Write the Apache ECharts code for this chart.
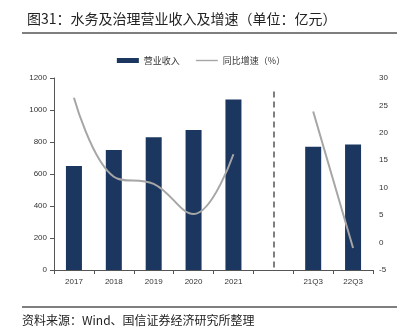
<!DOCTYPE html>
<html><head><meta charset="utf-8">
<script src="https://cdn.jsdelivr.net/npm/echarts@6/dist/echarts.min.js"></script>
<style>html,body{margin:0;padding:0;background:#fff}#c{width:402px;height:336px}</style>
</head><body><div id="c"></div>
<script>
const categories = ['2017','2018','2019','2020','2021','','21Q3','22Q3'];
const revenue = [650, 750, 830, 875, 1065, null, 770, 785];
const growth = [26.4, 12.0, 10.7, 5.2, 16.1, null, 23.9, -1.0];
const leftTicks = [0, 200, 400, 600, 800, 1000, 1200];
const rightTicks = [-5, 0, 5, 10, 15, 20, 25, 30];

const chart = echarts.init(document.getElementById('c'), null, {renderer:'canvas'});
const font = '"Noto Sans CJK SC", "Noto Sans", sans-serif';
const numFont = '"Liberation Sans", Arial, sans-serif';
chart.setOption({
  animation: false,
  textStyle: {fontFamily: font},
  title: {
    text: '图31：水务及治理营业收入及增速（单位：亿元）',
    left: 22, top: 7,
    textStyle: {fontSize: 14, fontWeight: 'normal', color: '#222', fontFamily: font}
  },
  legend: {
    top: 51, left: 'center',
    itemGap: 16,
    textStyle: {fontSize: 9, color: '#333'},
    data: [
      {name: '营业收入', icon: 'rect'},
      {name: '同比增速（%）', icon: 'path://M0,0L22,0L22,1.4L0,1.4Z'}
    ],
    itemWidth: 22, itemHeight: 5
  },
  graphic: [
    {type: 'line', shape: {x1: 22, y1: 33, x2: 397, y2: 33}, style: {stroke: '#555', lineWidth: 1.5}},
    {type: 'line', shape: {x1: 22, y1: 307, x2: 397, y2: 307}, style: {stroke: '#555', lineWidth: 1.5}},
    {type: 'text', left: 22, top: 314, style: {text: '资料来源：Wind、国信证券经济研究所整理', fontSize: 12, fill: '#222', fontFamily: font}}
  ],
  grid: {left: 54, right: 29, top: 78, bottom: 66},
  xAxis: {
    type: 'category', data: categories,
    axisLine: {lineStyle: {color: '#555'}},
    axisTick: {show: true, lineStyle: {color: '#555'}, length: 4},
    axisLabel: {fontSize: 8, color: '#333', margin: 8, fontFamily: numFont}
  },
  yAxis: [
    {type: 'value', min: 0, max: 1200, interval: 200,
     axisLine: {show: true, lineStyle: {color: '#555'}},
     axisTick: {show: true, lineStyle: {color: '#555'}, length: 4},
     splitLine: {show: false},
     axisLabel: {fontSize: 8, color: '#333', margin: 7, fontFamily: numFont, formatter: v => String(v)}},
    {type: 'value', min: -5, max: 30, interval: 5,
     axisLine: {show: false}, axisTick: {show: false},
     splitLine: {show: false},
     axisLabel: {fontSize: 8, color: '#333', margin: 6, fontFamily: numFont, formatter: v => String(v)}}
  ],
  series: [
    {name: '营业收入', type: 'bar', data: revenue, barWidth: 16,
     itemStyle: {color: '#1b365f'},
     markLine: {
       silent: true, symbol: 'none', label: {show: false},
       lineStyle: {type: [6, 4], color: '#555', width: 1.5},
       data: [[{coord: [5, 1115]}, {coord: [5, 10]}]]
     }},
    {name: '同比增速（%）', type: 'line', yAxisIndex: 1, data: growth,
     smooth: 0.4, connectNulls: false, showSymbol: false, symbol: 'none',
     lineStyle: {color: '#a6a6a6', width: 2}, itemStyle: {color: '#a6a6a6'}}
  ]
});
</script></body></html>
